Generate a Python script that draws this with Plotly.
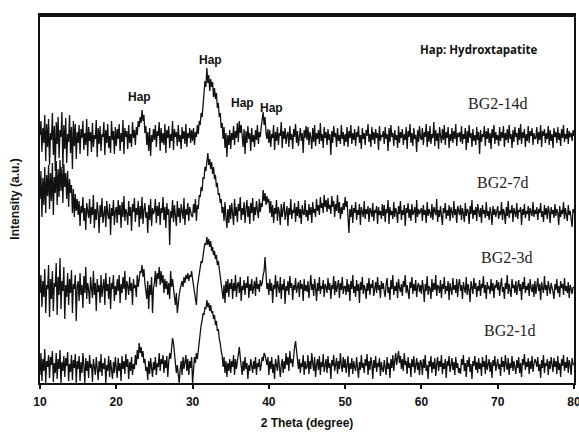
import plotly.graph_objects as go

# Sampling: each row below holds 40 readings, 0.125 deg apart, covering 5 deg;
# row k starts at 2-theta = 10 + 5k. The last list holds the reading at 80 deg.
ROW_START = [10, 15, 20, 25, 30, 35, 40, 45, 50, 55, 60, 65, 70, 75]
STEP = 0.125

bg2_14d_rows = [
    [248,262,231,255,240,268,222,259,236,264,218,250,243,270,228,257,212,261,239,266,
     225,253,246,271,215,258,234,265,220,249,241,268,230,256,214,262,237,259,224,251],
    [240,258,229,254,245,262,233,250,238,264,227,256,242,251,231,260,236,248,244,263,
     226,255,239,257,232,249,246,261,228,253,240,259,235,247,230,262,243,252,229,256],
    [237,254,244,259,232,250,241,263,229,255,246,252,234,258,240,249,236,261,245,253,
     238,256,248,262,256,266,260,273,262,268,250,257,238,251,232,255,227,248,241,254],
    [243,258,236,252,247,261,232,255,240,250,238,259,230,253,245,257,235,249,242,262,
     233,254,246,251,237,258,241,248,234,256,244,252,239,259,236,250,245,255,240,253],
    [242,255,238,251,246,258,249,262, 258,270,266,282, 290,302,296,315, 300,308,292,304,
     296,301,286,295, 284,290,275,280, 266,270,255,260, 244,256,235,250, 226,248,238,253],
    [234,250,243,257,238,252,245,260, 241,262,250,258,247,236,254,229, 252,240,257,244,250,232,255,241,
     248,236,253,243,258,239,251,246, 256,262,271,258,266,250,244,254],
    [240,253,236,249,245,258,233,251,242,256,238,250,247,261,235,252,244,255,239,248,
     251,236,257,243,249,234,254,246,259,240,252,237,248,255,242,250,230,253,245,257],
    [243,256,238,251,246,234,255,241,258,237,250,244,253,239,260,242,249,235,256,245,
     251,238,254,243,249,228,252,240,257,246,250,236,255,242,248,239,258,244,251,237],
    [249,241,256,236,252,245,258,239,250,243,254,237,251,246,257,240,248,234,255,244,
     250,238,253,247,259,241,249,236,256,243,251,239,254,245,250,233,257,242,248,246],
    [252,239,256,244,249,232,255,241,258,246,250,237,253,243,248,235,257,240,251,245,
     254,238,249,243,256,234,252,246,259,240,250,237,255,244,248,231,253,241,257,245],
    [243,255,238,251,246,259,236,252,241,257,239,249,245,261,237,253,242,250,234,256,
     247,240,254,243,258,238,251,245,256,235,249,242,255,240,252,244,259,237,250,246],
    [251,241,257,239,249,244,255,233,252,240,258,245,250,236,254,242,248,238,256,243,
     251,229,253,241,249,246,257,237,252,244,255,240,250,234,254,245,258,239,251,243],
    [248,237,256,242,251,245,257,236,250,243,254,240,258,244,249,235,253,241,256,246,
     250,238,255,243,259,239,251,245,254,236,249,242,257,240,252,247,255,238,250,244],
    [245,256,239,251,243,258,236,252,247,254,240,250,244,257,238,253,242,249,235,255,
     246,251,240,256,243,250,237,254,245,258,241,249,244,255,239,252,246,250,242,253],
]
bg2_14d_end = [247]

bg2_7d_rows = [
    [184,212,166,205,178,216,170,208,187,218, 174,210,182,220,168,206,190,222,178,214,
     186,223,192,216,180,219,196,210,184,212, 176,204,190,198,170,194,166,189,172,184],
    [168,182,157,177,170,186,162,175,153,180,172,165,184,159,176,168,188,155,174,163,
     181,170,150,178,166,185,160,173,177,156,182,169,164,179,148,175,167,183,158,172],
    [176,160,183,168,178,155,181,166,187,162,174,170,158,182,167,176,152,179,171,185,
     161,175,168,182,156,177,164,186,159,173,180,165,171,150,178,163,184,157,175,169],
    [172,184,160,177,167,181,158,175,170,186,163,176,155,180,168,174,138,172,165,183,
     161,178,169,157,182,166,175,160,179,171,164,185,158,174,168,180,162,176,170,167],
    [166,179,170,184,162,178,174,188, 186,196,192,206, 204,216,212,226, 230,218,224,214,
     221,209,216,204, 208,196,200,188, 190,180,184,170, 176,162,181,166, 155,174,160,178],
    [164,180,170,158,184,167,176,161, 179,172,186,163,175,168,181,160, 174,183,166,177,159,180,170,185,
     162,176,168,182,173,165,184,171, 180,176,193,182,190,178,187,180],
    [184,170,182,166,178,160,175,169,183,162,176,171,158,179,166,174,181,163,172,177,
     157,175,168,184,164,173,170,180,161,176,167,182,165,174,159,178,170,168,183,166],
    [173,162,179,168,176,160,181,170,174,166,184,172,178,168,186,175,180,170,188,176,
     183,171,185,174,178,169,187,176,182,166,179,172,188,170,181,164,176,169,180,173],
    [186,176,182,168,150,174,166,178,160,175,170,181,163,173,168,179,158,176,171,166,
     182,164,174,169,177,161,175,172,166,180,162,173,170,177,159,176,168,172,164,179],
    [167,178,161,174,170,183,159,176,168,172,164,181,166,175,171,160,177,169,182,163,
     173,168,178,157,175,170,180,165,174,162,179,168,171,176,160,183,166,174,169,172],
    [175,162,178,168,173,160,181,167,174,170,165,179,163,176,171,168,184,161,173,166,
     177,169,158,175,170,180,164,173,167,178,162,176,171,165,182,168,174,160,177,170],
    [168,178,163,175,170,161,180,167,174,172,159,177,169,183,164,173,168,176,162,179,
     171,166,175,160,178,169,173,165,181,167,172,163,176,170,158,177,168,174,166,173],
    [177,164,172,168,181,163,174,170,159,176,167,182,165,173,170,178,161,175,169,166,
     180,164,173,171,176,158,174,168,179,165,172,169,177,162,175,170,167,181,166,173],
    [169,176,163,174,170,180,166,172,161,178,168,175,164,177,171,160,176,169,173,165,
     179,167,174,170,158,177,166,173,169,181,164,175,170,162,178,168,172,165,156,174],
]
bg2_7d_end = [170]

bg2_3d_rows = [
    [90,108,76,102,86,114,70,98,94,118,66,104,84,112,72,100,96,120,68,106,
     88,125,74,102,92,116,64,98,86,110,78,104,90,113,70,99,94,108,62,97],
    [102,82,110,88,98,75,107,90,116,84,100,93,79,106,95,85,112,88,100,72,
     104,91,98,80,108,86,96,104,78,110,92,99,84,106,74,100,94,108,82,97],
    [88,104,92,108,80,99,90,106,94,112,83,102,97,88,106,92,100,78,104,95,
     98,86,108,96,104,112,110,118,106,114,100,92,84,102,74,98,88,106,70,95],
    [100,112,96,110,104,116,98,112, 100,108,90,104,94,102,88,100, 84,112,96,104,92,86,78,90,
     70,82,88,94,98,102,96,106, 100,108,104,110,102,108,106,112],
    [104,98,94,88,78,96,104,112, 116,122,120,130, 134,140,138,146, 138,144,136,142,
     132,136,128,132, 124,128,118,122, 114,108,102,96, 84,98,80,102, 90,104,86,100],
    [94,104,84,100,92,108,86,98,101,90,106,82,97,93,103,88,100,95,107,85,
     99,92,104,89,97,102,87,106,94,99,91,103,97,100,108,112,126,110,94,100],
    [88,104,92,100,80,98,94,108,86,102,96,90,106,84,99,93,104,79,97,92,
     102,88,107,95,100,83,98,93,105,90,96,101,86,103,94,99,82,104,92,98],
    [91,102,85,98,108,93,99,87,104,95,82,100,92,106,89,97,94,103,86,99,
     96,90,105,93,100,84,98,94,107,88,102,91,97,103,85,100,93,106,89,96],
    [97,88,104,91,99,82,102,94,108,90,97,86,103,92,99,80,101,93,106,89,
     98,94,84,100,92,105,88,99,95,103,87,97,101,90,106,93,98,85,102,94],
    [100,91,86,99,105,90,96,83,103,94,108,88,97,92,101,85,104,95,91,99,
     87,102,96,108,90,98,93,84,101,95,106,89,99,92,103,86,97,100,91,98],
    [89,103,95,81,99,92,107,88,97,94,84,104,91,100,93,108,87,98,96,90,
     103,85,99,94,106,89,97,92,102,83,100,95,88,105,93,98,90,104,86,99],
    [104,92,98,84,101,95,90,106,88,99,93,81,102,96,89,105,94,100,86,97,
     92,103,87,99,95,107,90,98,84,101,94,97,89,104,92,100,85,98,95,103],
    [93,101,87,98,105,91,96,84,100,94,108,89,99,92,86,104,95,98,90,102,
     88,97,103,92,99,83,101,94,106,90,97,93,100,87,104,95,91,99,86,102],
    [89,97,105,92,99,83,101,95,90,107,93,98,87,102,94,89,100,96,91,84,
     99,93,104,90,97,86,102,95,99,88,105,92,97,90,101,85,98,94,89,96],
]
bg2_3d_end = [95]

bg2_1d_rows = [
    [8,30,2,24,12,34,0,22,16,28,5,26,18,32,1,20,10,30,4,24,
     14,33,0,21,12,27,6,25,17,31,2,19,11,28,3,23,15,29,0,22],
    [14,27,2,21,10,30,17,0,25,12,22,5,28,15,19,1,24,13,8,26,
     16,3,22,11,29,7,20,14,25,0,18,12,27,6,23,16,4,21,10,26],
    [17,5,25,12,20,2,27,14,22,9,29,16,24,4,21,12,26,8,19,14,
     28,18,33,24,40,30,36,26,32,20,24,12,16,3,22,9,25,14,6,21],
    [13,26,8,20,16,30,12,24,19,28,10,23,15,27,6,21, 30,24,38,45,40,32,20,10,
     18,6,0,14,22,8,26,14, 20,28,12,24,8,22,15,26],
    [0,18,26,20,30,24,34,38, 50,58,62,70, 68,76,74,83, 76,80,72,78,
     70,72,64,68, 58,62,52,54, 44,40,32,28, 16,26,10,22, 6,20,12,24],
    [10,22,16,28,8,24,14,20,30,36,26,18,8,22,12,26,
     14,20,4,18,12,24,16,10,22,14,26,8,20,16,24,12, 18,26,22,30,28,24,18,26],
    [8,22,14,26,10,19,4,24,16,12,28,20,6,18,24,10,
     22,14,30,18,26,12,32,20,24,16,30,36,42,32,26,14, 24,10,20,16,28,8,22,14],
    [16,28,9,22,14,30,20,12,26,6,18,24,13,27,8,21,16,29,11,19,
     24,10,27,15,20,4,23,17,28,12,19,25,9,22,14,30,18,11,26,15],
    [24,10,18,27,6,20,14,25,9,22,16,12,26,18,5,21,13,28,15,20,
     10,24,17,29,8,22,13,26,19,4,23,15,27,11,20,16,25,7,21,14],
    [11,23,17,8,26,14,20,5,24,15,28,12,22,30,18,26,32,20,27,14,
     24,12,30,18,22,9,26,15,20,6,24,16,27,10,19,25,13,21,8,23],
    [20,8,24,15,28,12,18,4,22,16,27,10,21,14,25,7,19,26,12,22,
     16,28,9,20,14,24,5,22,17,27,11,19,25,13,21,8,26,15,20,10],
    [15,9,24,18,28,12,20,6,23,16,26,11,19,4,22,17,27,13,21,10,
     25,14,20,7,26,16,22,9,28,13,19,24,11,21,5,23,17,27,12,20],
    [24,14,19,7,26,16,22,11,28,18,13,25,8,20,15,27,12,22,17,9,
     23,15,26,10,20,6,24,18,29,13,21,16,25,9,22,14,27,11,19,24],
    [21,16,26,12,19,5,23,15,28,10,20,17,24,8,22,14,26,18,11,25,
     16,22,9,27,13,20,6,24,17,28,12,21,15,26,10,23,18,8,25,19],
]
bg2_1d_end = [18]

series_names = ["BG2-14d", "BG2-7d", "BG2-3d", "BG2-1d"]
series_rows = [bg2_14d_rows, bg2_7d_rows, bg2_3d_rows, bg2_1d_rows]
series_end = [bg2_14d_end, bg2_7d_end, bg2_3d_end, bg2_1d_end]
series_label_pos = [(70.0, 280), (70.7, 201), (71.2, 126), (71.6, 53)]

x_ticks = [10, 20, 30, 40, 50, 60, 70, 80]

# Hap peak annotations (2-theta, intensity)
hap_labels = [("Hap", 32.4, 323), ("Hap", 23.1, 286), ("Hap", 36.5, 280), ("Hap", 40.3, 275)]


def flatten(rows, end):
    xs, ys = [], []
    for start, row in zip(ROW_START, rows):
        for j, v in enumerate(row):
            xs.append(start + STEP * j)
            ys.append(v)
    xs.append(80)
    ys.extend(end)
    return xs, ys


fig = go.Figure()
for name, rows, end in zip(series_names, series_rows, series_end):
    xs, ys = flatten(rows, end)
    fig.add_trace(go.Scatter(
        x=xs, y=ys, mode="lines", name=name,
        line=dict(color="#111111", width=1.3), showlegend=False,
    ))

annotations = []
for name, (lx, ly) in zip(series_names, series_label_pos):
    annotations.append(dict(x=lx, y=ly, xref="x", yref="y", text=name, showarrow=False,
                            font=dict(family="Liberation Serif, Times New Roman, serif", size=16, color="#222")))
for txt, hx, hy in hap_labels:
    annotations.append(dict(x=hx, y=hy, xref="x", yref="y", text="<b>%s</b>" % txt, showarrow=False,
                            font=dict(family="Liberation Sans, Arial, sans-serif", size=12, color="#111")))
annotations.append(dict(x=67.5, y=334, xref="x", yref="y", text="<b>Hap: Hydroxtapatite</b>", showarrow=False,
                        font=dict(family="Open Sans, sans-serif", size=11.5, color="#111")))

fig.update_layout(
    width=579, height=432,
    margin=dict(l=40, r=5, t=15, b=49),
    paper_bgcolor="white", plot_bgcolor="white",
    annotations=annotations,
    shapes=[dict(type="line", xref="paper", yref="paper", x0=0, x1=1, y0=0.997, y1=0.997,
                 line=dict(color="#111", width=2), layer="above")],
    font=dict(family="Liberation Sans, Arial, sans-serif", color="#111"),
    xaxis=dict(
        range=[10, 80], tickvals=x_ticks, ticktext=[str(t) for t in x_ticks],
        ticks="outside", ticklen=4, tickwidth=1.5, tickcolor="#111",
        showline=True, linecolor="#111", linewidth=1.5, mirror=True,
        showgrid=False, zeroline=False,
        tickfont=dict(size=12, family="Liberation Sans, Arial, sans-serif", weight="bold"),
        ticklabelstandoff=3, ticklabeloverflow="allow",
        title=dict(text="<b>2 Theta (degree)</b>", font=dict(size=12), standoff=10),
        automargin=False,
    ),
    yaxis=dict(
        range=[0, 368], showticklabels=False, ticks="",
        showline=True, linecolor="#111", linewidth=1.5, mirror=True,
        showgrid=False, zeroline=False,
        title=dict(text="<b>Intensity (a.u.)</b>", font=dict(size=12), standoff=16),
        automargin=False,
    ),
)

fig.write_html("out.html", config={"displayModeBar": False},
               post_script="document.body.style.margin='0px';document.body.style.overflow='hidden';")
